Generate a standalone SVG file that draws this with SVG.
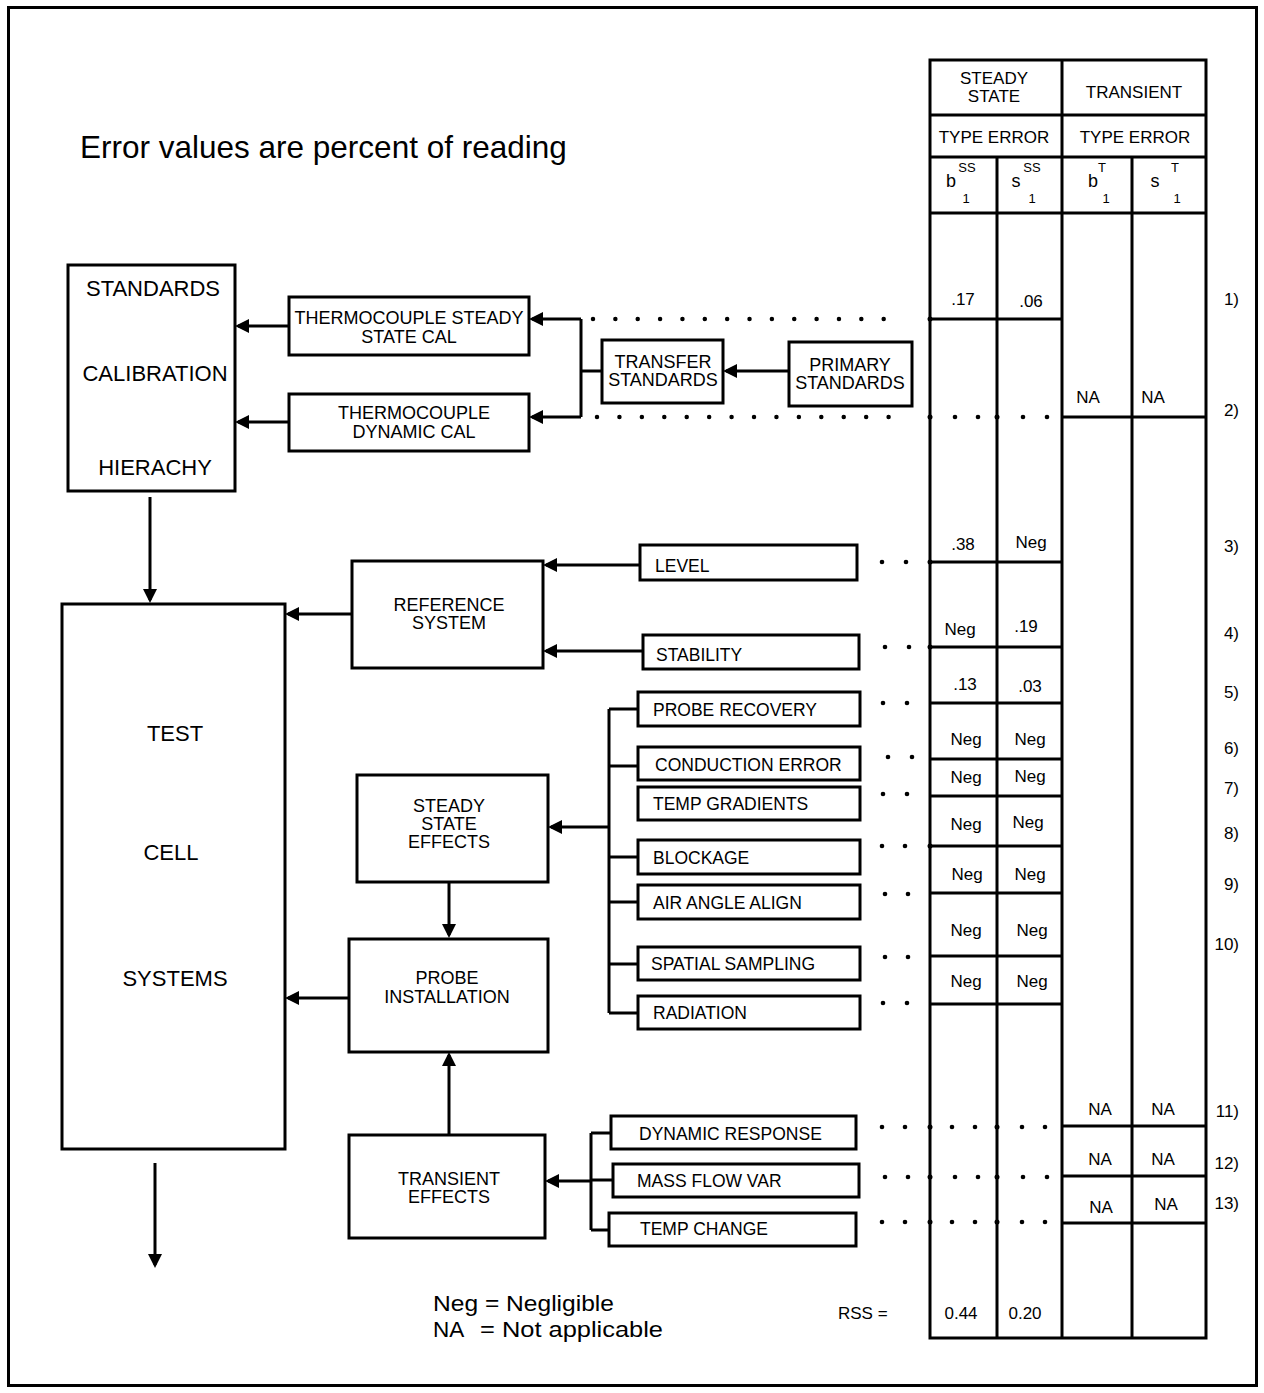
<svg xmlns="http://www.w3.org/2000/svg" width="1264" height="1393" viewBox="0 0 1264 1393">
<style>
text{font-family:"Liberation Sans",Arial,sans-serif;fill:#000}
.box{fill:#fff;stroke:#000;stroke-width:3}
.ln{fill:none;stroke:#000;stroke-width:3}
.arr{fill:none;stroke:#000;stroke-width:3;marker-end:url(#ah)}
.tb{fill:none;stroke:#000;stroke-width:3}
.dots{fill:none;stroke:#000;stroke-width:4.5;stroke-linecap:round}
.d{fill:#000}
.big{font-size:22px;text-anchor:middle}
.lab{font-size:18px;text-anchor:middle}
.sm{font-size:17.5px}
.tv{font-size:17px;text-anchor:middle}
.rn{font-size:17px;text-anchor:end}
.sup{font-size:13px;text-anchor:middle}
.leg{font-size:22.5px}
</style>
<defs>
<marker id="ah" viewBox="0 0 14 14" refX="11" refY="7" markerWidth="14" markerHeight="14" markerUnits="userSpaceOnUse" orient="auto">
<path d="M0,0 L14,7 L0,14 z" fill="#000"/>
</marker>
</defs>
<rect x="0" y="0" width="1264" height="1393" fill="#fff"/>
<rect x="8.5" y="7.5" width="1248" height="1378" fill="none" stroke="#000" stroke-width="3"/>

<text x="80" y="158" style="font-size:31.5px">Error values are percent of reading</text>

<g id="standards">
<rect class="box" x="68" y="265" width="167" height="226"/>
<text class="big" x="153" y="296">STANDARDS</text>
<text class="big" x="155" y="381">CALIBRATION</text>
<text class="big" x="155" y="475">HIERACHY</text>
</g>
<g id="tc-steady">
<rect class="box" x="289" y="297" width="240" height="58"/>
<text class="lab" x="409" y="324">THERMOCOUPLE STEADY</text>
<text class="lab" x="409" y="343">STATE CAL</text>
</g>
<g id="tc-dynamic">
<rect class="box" x="289" y="394" width="240" height="57"/>
<text class="lab" x="414" y="419">THERMOCOUPLE</text>
<text class="lab" x="414" y="438">DYNAMIC CAL</text>
</g>
<g id="transfer">
<rect class="box" x="602" y="340" width="121" height="63"/>
<text class="lab" x="663" y="368">TRANSFER</text>
<text class="lab" x="663" y="386">STANDARDS</text>
</g>
<g id="primary">
<rect class="box" x="789" y="342" width="123" height="64"/>
<text class="lab" x="850" y="371">PRIMARY</text>
<text class="lab" x="850" y="389">STANDARDS</text>
</g>
<g id="testcell">
<rect class="box" x="62" y="604" width="223" height="545"/>
<text class="big" x="175" y="741">TEST</text>
<text class="big" x="171" y="860">CELL</text>
<text class="big" x="175" y="986">SYSTEMS</text>
</g>
<g id="refsys">
<rect class="box" x="352" y="561" width="191" height="107"/>
<text class="lab" x="449" y="611">REFERENCE</text>
<text class="lab" x="449" y="629">SYSTEM</text>
</g>
<g id="level">
<rect class="box" x="640" y="545" width="217" height="35"/>
<text class="sm" x="655" y="572">LEVEL</text>
</g>
<g id="stability">
<rect class="box" x="643" y="635" width="216" height="34"/>
<text class="sm" x="656" y="661">STABILITY</text>
</g>
<g id="sse">
<rect class="box" x="357" y="775" width="191" height="107"/>
<text class="lab" x="449" y="812">STEADY</text>
<text class="lab" x="449" y="830">STATE</text>
<text class="lab" x="449" y="848">EFFECTS</text>
</g>
<g id="probe-recovery">
<rect class="box" x="638" y="692" width="222" height="34"/>
<text class="sm" x="653" y="716">PROBE RECOVERY</text>
</g>
<g id="conduction">
<rect class="box" x="638" y="747" width="222" height="33"/>
<text class="sm" x="655" y="771">CONDUCTION ERROR</text>
</g>
<g id="temp-gradients">
<rect class="box" x="638" y="787" width="222" height="33"/>
<text class="sm" x="653" y="810">TEMP GRADIENTS</text>
</g>
<g id="blockage">
<rect class="box" x="638" y="840" width="222" height="34"/>
<text class="sm" x="653" y="864">BLOCKAGE</text>
</g>
<g id="air-angle">
<rect class="box" x="638" y="885" width="222" height="34"/>
<text class="sm" x="653" y="909">AIR ANGLE ALIGN</text>
</g>
<g id="spatial">
<rect class="box" x="638" y="947" width="222" height="33"/>
<text class="sm" x="651" y="970">SPATIAL SAMPLING</text>
</g>
<g id="radiation">
<rect class="box" x="638" y="996" width="222" height="33"/>
<text class="sm" x="653" y="1019">RADIATION</text>
</g>
<g id="probe-install">
<rect class="box" x="349" y="939" width="199" height="113"/>
<text class="lab" x="447" y="984">PROBE</text>
<text class="lab" x="447" y="1003">INSTALLATION</text>
</g>
<g id="transient">
<rect class="box" x="349" y="1135" width="196" height="103"/>
<text class="lab" x="449" y="1185">TRANSIENT</text>
<text class="lab" x="449" y="1203">EFFECTS</text>
</g>
<g id="dyn-resp">
<rect class="box" x="611" y="1116" width="245" height="33"/>
<text class="sm" x="639" y="1140">DYNAMIC RESPONSE</text>
</g>
<g id="mass-flow">
<rect class="box" x="613" y="1164" width="246" height="33"/>
<text class="sm" x="637" y="1187">MASS FLOW VAR</text>
</g>
<g id="temp-change">
<rect class="box" x="609" y="1213" width="247" height="33"/>
<text class="sm" x="640" y="1235">TEMP CHANGE</text>
</g>

<g id="connectors">
<path class="arr" d="M289,326 H238"/>
<path class="arr" d="M289,422 H238"/>
<path class="ln" d="M602,371 H581 M581,319 V417"/>
<path class="arr" d="M581,319 H532"/>
<path class="arr" d="M581,417 H532"/>
<path class="arr" d="M789,371 H726"/>
<path class="arr" d="M150,497 V600"/>
<path class="arr" d="M155,1163 V1265"/>
<path class="arr" d="M640,565 H546"/>
<path class="arr" d="M643,651 H546"/>
<path class="arr" d="M352,614 H288"/>
<path class="ln" d="M609,709 V1013 M609,709 H638 M609,766 H638 M609,857 H638 M609,902 H638 M609,964 H638 M609,1013 H638"/>
<path class="arr" d="M609,827 H551"/>
<path class="arr" d="M449,882 V935"/>
<path class="arr" d="M349,998 H288"/>
<path class="arr" d="M449,1135 V1055"/>
<path class="ln" d="M591,1133 V1230 M591,1133 H611 M591,1180 H613 M591,1230 H609"/>
<path class="arr" d="M591,1181 H548"/>
<!-- dotted leaders -->
<line class="dots" x1="593" y1="319" x2="906" y2="319" stroke-dasharray="0 22.36"/>
<line class="dots" x1="597" y1="417" x2="910" y2="417" stroke-dasharray="0 22.43"/>
<circle class="d" cx="955" cy="417" r="2.3"/><circle class="d" cx="978" cy="417" r="2.3"/>
<circle class="d" cx="1023" cy="417" r="2.3"/><circle class="d" cx="1047" cy="417" r="2.3"/>
<circle class="d" cx="882" cy="562" r="2.3"/><circle class="d" cx="906" cy="562" r="2.3"/>
<circle class="d" cx="885" cy="647" r="2.3"/><circle class="d" cx="909" cy="647" r="2.3"/>
<circle class="d" cx="883" cy="703" r="2.3"/><circle class="d" cx="907" cy="703" r="2.3"/>
<circle class="d" cx="888" cy="757" r="2.3"/><circle class="d" cx="912" cy="757" r="2.3"/>
<circle class="d" cx="883" cy="794" r="2.3"/><circle class="d" cx="907" cy="794" r="2.3"/>
<circle class="d" cx="882" cy="846" r="2.3"/><circle class="d" cx="905" cy="846" r="2.3"/>
<circle class="d" cx="885" cy="894" r="2.3"/><circle class="d" cx="908" cy="894" r="2.3"/>
<circle class="d" cx="885" cy="957" r="2.3"/><circle class="d" cx="908" cy="957" r="2.3"/>
<circle class="d" cx="883" cy="1003" r="2.3"/><circle class="d" cx="907" cy="1003" r="2.3"/>
<circle class="d" cx="882" cy="1127" r="2.3"/><circle class="d" cx="905" cy="1127" r="2.3"/>
<circle class="d" cx="952" cy="1127" r="2.3"/><circle class="d" cx="975" cy="1127" r="2.3"/>
<circle class="d" cx="1022" cy="1127" r="2.3"/><circle class="d" cx="1045" cy="1127" r="2.3"/>
<circle class="d" cx="885" cy="1177" r="2.3"/><circle class="d" cx="908" cy="1177" r="2.3"/>
<circle class="d" cx="955" cy="1177" r="2.3"/><circle class="d" cx="978" cy="1177" r="2.3"/>
<circle class="d" cx="1023" cy="1177" r="2.3"/><circle class="d" cx="1047" cy="1177" r="2.3"/>
<circle class="d" cx="882" cy="1222" r="2.3"/><circle class="d" cx="905" cy="1222" r="2.3"/>
<circle class="d" cx="952" cy="1222" r="2.3"/><circle class="d" cx="975" cy="1222" r="2.3"/>
<circle class="d" cx="1022" cy="1222" r="2.3"/><circle class="d" cx="1045" cy="1222" r="2.3"/>
<circle class="d" cx="930" cy="319" r="2.5"/>
<circle class="d" cx="930" cy="417" r="2.5"/>
<circle class="d" cx="997" cy="417" r="2.5"/>
<circle class="d" cx="930" cy="562" r="2.5"/>
<circle class="d" cx="930" cy="647" r="2.5"/>
<circle class="d" cx="930" cy="846" r="2.5"/>
<circle class="d" cx="930" cy="1127" r="2.5"/>
<circle class="d" cx="997" cy="1127" r="2.5"/>
<circle class="d" cx="930" cy="1177" r="2.5"/>
<circle class="d" cx="997" cy="1177" r="2.5"/>
<circle class="d" cx="930" cy="1222" r="2.5"/>
<circle class="d" cx="997" cy="1222" r="2.5"/>
</g>

<g id="table">
<path class="tb" d="M930,60 H1206 V1338 H930 Z M1062,60 V1338 M997,157 V1338 M1132,157 V1338 M930,115 H1206 M930,157 H1206 M930,213 H1206"/>
<path class="tb" d="M930,319 H1062 M930,562 H1062 M930,647 H1062 M930,703 H1062 M930,759 H1062 M930,796 H1062 M930,846 H1062 M930,893 H1062 M930,956 H1062 M930,1004 H1062"/>
<path class="tb" d="M1062,417 H1206 M1062,1126 H1206 M1062,1176 H1206 M1062,1223 H1206"/>
<text class="tv" x="994" y="84">STEADY</text>
<text class="tv" x="994" y="102">STATE</text>
<text class="tv" x="1134" y="98">TRANSIENT</text>
<text class="tv" x="994" y="143">TYPE ERROR</text>
<text class="tv" x="1135" y="143">TYPE ERROR</text>
<text class="tv" x="951" y="187" style="font-size:18px">b</text>
<text class="sup" x="967" y="172">SS</text>
<text class="sup" x="966" y="203">1</text>
<text class="tv" x="1016" y="187" style="font-size:18px">s</text>
<text class="sup" x="1032" y="172">SS</text>
<text class="sup" x="1032" y="203">1</text>
<text class="tv" x="1093" y="187" style="font-size:18px">b</text>
<text class="sup" x="1102" y="172">T</text>
<text class="sup" x="1106" y="203">1</text>
<text class="tv" x="1155" y="187" style="font-size:18px">s</text>
<text class="sup" x="1175" y="172">T</text>
<text class="sup" x="1177" y="203">1</text>

<text class="tv" x="963" y="305">.17</text>
<text class="tv" x="1031" y="307">.06</text>
<text class="tv" x="1088" y="403">NA</text>
<text class="tv" x="1153" y="403">NA</text>
<text class="tv" x="963" y="550">.38</text>
<text class="tv" x="1031" y="548">Neg</text>
<text class="tv" x="960" y="635">Neg</text>
<text class="tv" x="1026" y="632">.19</text>
<text class="tv" x="965" y="690">.13</text>
<text class="tv" x="1030" y="692">.03</text>
<text class="tv" x="966" y="745">Neg</text>
<text class="tv" x="1030" y="745">Neg</text>
<text class="tv" x="966" y="783">Neg</text>
<text class="tv" x="1030" y="782">Neg</text>
<text class="tv" x="966" y="830">Neg</text>
<text class="tv" x="1028" y="828">Neg</text>
<text class="tv" x="967" y="880">Neg</text>
<text class="tv" x="1030" y="880">Neg</text>
<text class="tv" x="966" y="936">Neg</text>
<text class="tv" x="1032" y="936">Neg</text>
<text class="tv" x="966" y="987">Neg</text>
<text class="tv" x="1032" y="987">Neg</text>
<text class="tv" x="1100" y="1115">NA</text>
<text class="tv" x="1163" y="1115">NA</text>
<text class="tv" x="1100" y="1165">NA</text>
<text class="tv" x="1163" y="1165">NA</text>
<text class="tv" x="1101" y="1213">NA</text>
<text class="tv" x="1166" y="1210">NA</text>
<text class="tv" x="961" y="1319">0.44</text>
<text class="tv" x="1025" y="1319">0.20</text>
</g>

<g id="row-numbers">
<text class="rn" x="1239" y="305">1)</text>
<text class="rn" x="1239" y="416">2)</text>
<text class="rn" x="1239" y="552">3)</text>
<text class="rn" x="1239" y="639">4)</text>
<text class="rn" x="1239" y="698">5)</text>
<text class="rn" x="1239" y="754">6)</text>
<text class="rn" x="1239" y="794">7)</text>
<text class="rn" x="1239" y="839">8)</text>
<text class="rn" x="1239" y="890">9)</text>
<text class="rn" x="1239" y="950">10)</text>
<text class="rn" x="1239" y="1117">11)</text>
<text class="rn" x="1239" y="1169">12)</text>
<text class="rn" x="1239" y="1209">13)</text>
</g>

<g id="legend">
<text x="838" y="1319" style="font-size:17px">RSS =</text>
<text class="leg" x="433" y="1311" textLength="181" lengthAdjust="spacingAndGlyphs">Neg = Negligible</text>
<text class="leg" x="433" y="1337">NA</text>
<text class="leg" x="480" y="1337" textLength="183" lengthAdjust="spacingAndGlyphs">= Not applicable</text>
</g>
</svg>
